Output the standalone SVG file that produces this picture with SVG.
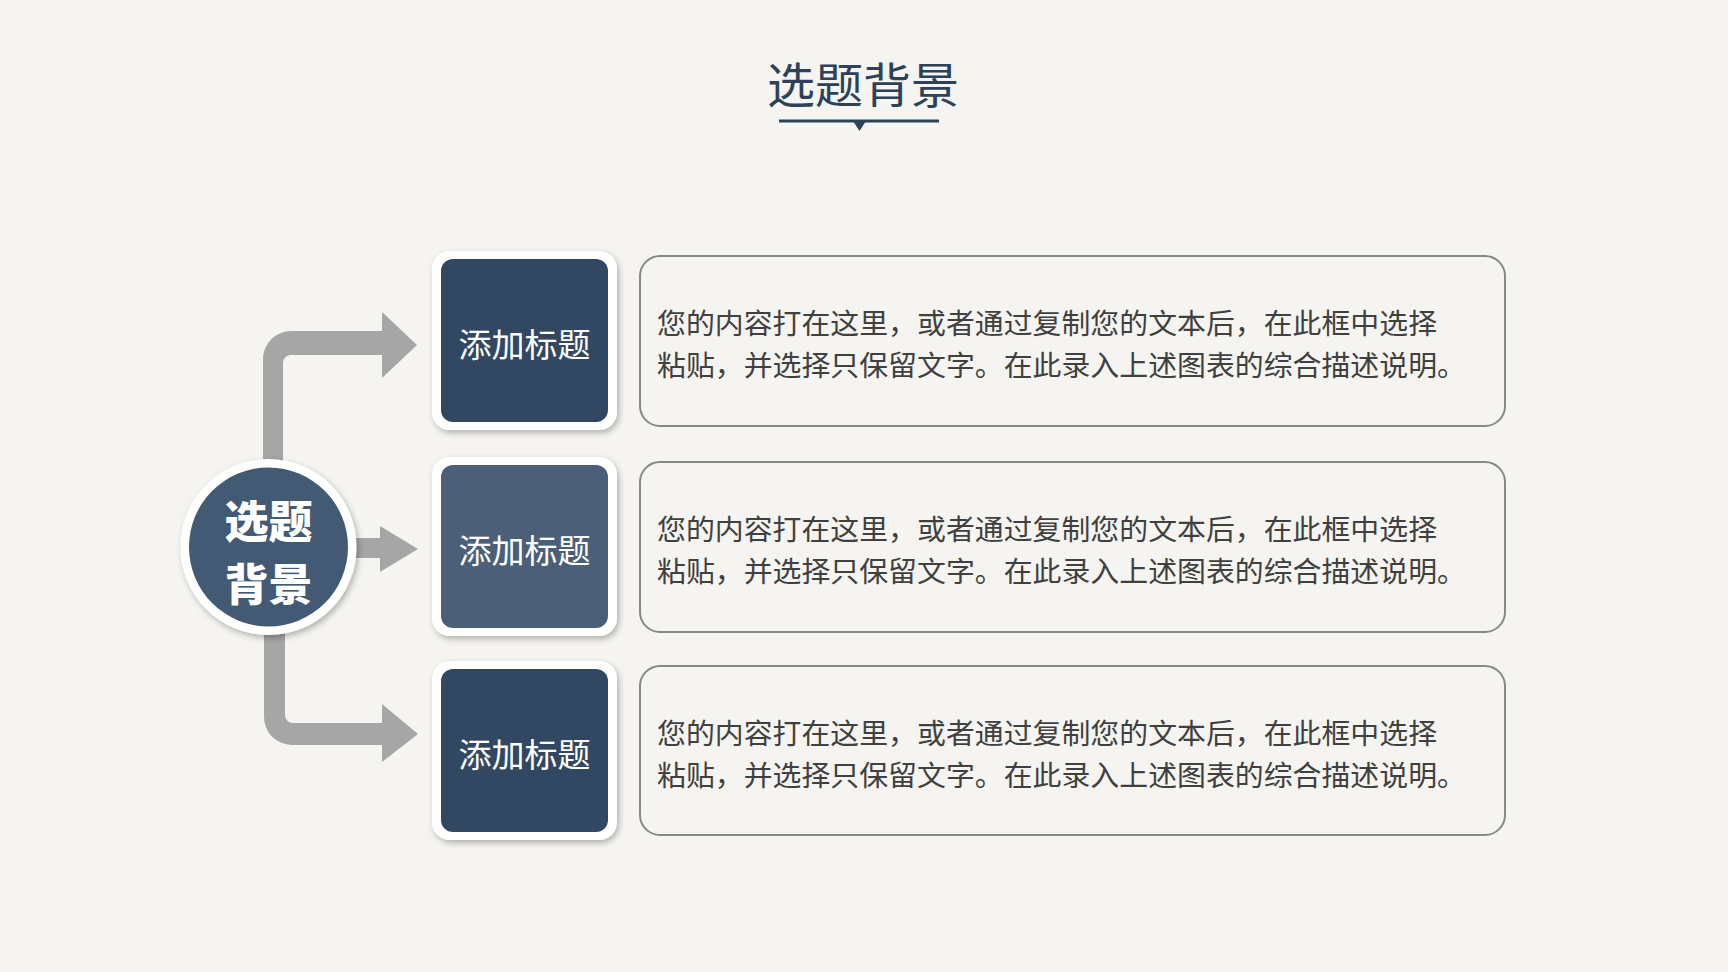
<svg xmlns="http://www.w3.org/2000/svg" width="1728" height="972" viewBox="0 0 1728 972">
<defs>
<filter id="sh" x="-20%" y="-20%" width="140%" height="140%">
<feDropShadow dx="2" dy="3" stdDeviation="3" flood-color="#000" flood-opacity="0.28"/>
</filter>
<style>
.cjk{font-family:"Noto Sans CJK SC","Noto Sans",sans-serif;}
.title{font-size:48px;fill:#2d4259;}
.lbl{font-size:33px;fill:#ffffff;text-anchor:middle;}
.ctr{font-size:44px;fill:#ffffff;font-weight:900;text-anchor:middle;}
.body{font-size:28.9px;fill:#404040;}
.frame{fill:#ffffff;filter:url(#sh);}
.card{fill:#f5f4f0;stroke:#888888;stroke-width:2;}
.conn{fill:#a6a6a6;}
</style>
</defs>
<rect x="0" y="0" width="1728" height="972" fill="#f5f4f0"/>

<g id="title">
<text class="cjk title" x="863" y="103" text-anchor="middle">选题背景</text>
<rect x="779" y="119.5" width="160" height="3" fill="#2d4259"/>
<polygon points="853,121 866,121 859.5,131" fill="#2d4259"/>
</g>

<g id="connectors">
<path class="conn" d="M263,548 V359 A28,28 0 0 1 291,331 H383 V355 H291 A8,8 0 0 0 283,363 V548 Z"/>
<polygon class="conn" points="382,312 417,345 382,378"/>
<rect class="conn" x="300" y="538" width="82" height="20"/>
<polygon class="conn" points="380,526 418,549 380,572"/>
<path class="conn" d="M264,548 V717 A28,28 0 0 0 292,745 H383 V723 H293 A8,8 0 0 1 285,715 V548 Z"/>
<polygon class="conn" points="382,704 418,734 382,762"/>
</g>

<g id="center">
<circle class="frame" cx="268.5" cy="547" r="88"/>
<circle cx="268.5" cy="547" r="79.5" fill="#435a75"/>
<text class="cjk ctr" x="268.5" y="538">选题</text>
<text class="cjk ctr" x="268.5" y="601">背景</text>
</g>

<g id="node1">
<rect class="frame" x="432" y="251" width="185" height="179" rx="18"/>
<rect x="441" y="259" width="167" height="163" rx="12" fill="#324862"/>
<text class="cjk lbl" x="524.5" y="357">添加标题</text>
</g>
<g id="node2">
<rect class="frame" x="432" y="457" width="185" height="179" rx="18"/>
<rect x="441" y="465" width="167" height="163" rx="12" fill="#4b6078"/>
<text class="cjk lbl" x="524.5" y="563">添加标题</text>
</g>
<g id="node3">
<rect class="frame" x="432" y="661" width="185" height="179" rx="18"/>
<rect x="441" y="669" width="167" height="163" rx="12" fill="#324862"/>
<text class="cjk lbl" x="524.5" y="767">添加标题</text>
</g>

<g id="card1">
<rect class="card" x="640" y="256" width="865" height="170" rx="20"/>
<text class="cjk body" x="657" y="334">您的内容打在这里，或者通过复制您的文本后，在此框中选择</text>
<text class="cjk body" x="657" y="376">粘贴，并选择只保留文字。在此录入上述图表的综合描述说明。</text>
</g>
<g id="card2">
<rect class="card" x="640" y="462" width="865" height="170" rx="20"/>
<text class="cjk body" x="657" y="540">您的内容打在这里，或者通过复制您的文本后，在此框中选择</text>
<text class="cjk body" x="657" y="582">粘贴，并选择只保留文字。在此录入上述图表的综合描述说明。</text>
</g>
<g id="card3">
<rect class="card" x="640" y="666" width="865" height="169" rx="20"/>
<text class="cjk body" x="657" y="744">您的内容打在这里，或者通过复制您的文本后，在此框中选择</text>
<text class="cjk body" x="657" y="786">粘贴，并选择只保留文字。在此录入上述图表的综合描述说明。</text>
</g>
</svg>
